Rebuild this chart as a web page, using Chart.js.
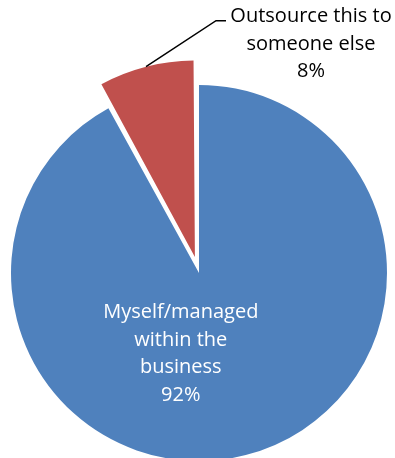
<!DOCTYPE html>
<html lang="en">
<head>
    <meta charset="UTF-8">
    <title>Pie Chart</title>
    <style>
        html, body {
            margin: 0;
            padding: 0;
            background: #fff;
        }
        .chart-container {
            width: 395px;
            height: 458px;
        }
    </style>
    <script src="https://cdn.jsdelivr.net/npm/chart.js"></script>
</head>
<body>
    <div class="chart-container">
        <canvas id="pieChart"></canvas>
    </div>

    <script>
        // Chart data
        const categories = ['Myself/managed within the business', 'Outsource this to someone else'];
        const labelLines = [['Myself/managed', 'within the', 'business'], ['Outsource this to', 'someone else']];
        const percentages = [92, 8];
        const sliceColors = ['#4F81BD', '#C0504D'];
        const explode = [0, 66]; // chart.js arc offset option

        const FONT = '20px "Open Sans", sans-serif';
        const LINE_H = 27.5;

        // how far chart.js really moves an arc for a given offset option
        function arcShift(off, circ) {
            const o = off / 4;
            return o + o * (1 - Math.sin(Math.min(Math.PI, circ)));
        }

        // draws the data labels (inside for the big slice, outside with leader line for the small one)
        const pieLabels = {
            id: 'pieLabels',
            afterDatasetsDraw(chart) {
                const ctx = chart.ctx;
                const arcs = chart.getDatasetMeta(0).data;
                ctx.save();
                ctx.font = FONT;
                ctx.textAlign = 'center';
                ctx.textBaseline = 'middle';

                arcs.forEach((arc, i) => {
                    const { x, y, startAngle, endAngle, outerRadius, circumference } =
                        arc.getProps(['x', 'y', 'startAngle', 'endAngle', 'outerRadius', 'circumference'], true);
                    const mid = (startAngle + endAngle) / 2;
                    const shift = arcShift(explode[i], circumference);
                    const cx = x + Math.cos(mid) * shift;
                    const cy = y + Math.sin(mid) * shift;
                    const lines = labelLines[i].concat([percentages[i] + '%']);

                    if (i === 0) {
                        const lx = cx - outerRadius * 0.097;
                        const ly = cy + outerRadius * 0.43;
                        ctx.fillStyle = '#ffffff';
                        lines.forEach((t, k) => {
                            ctx.fillText(t, lx, ly + (k - (lines.length - 1) / 2) * LINE_H);
                        });
                    } else {
                        // anchor on the outer edge of the slice
                        const ax = cx + Math.cos(mid) * outerRadius;
                        const ay = cy + Math.sin(mid) * outerRadius;
                        const bx = ax + 70;
                        const by = ay - 46;
                        ctx.strokeStyle = '#000000';
                        ctx.lineWidth = 1.5;
                        ctx.beginPath();
                        ctx.moveTo(ax, ay);
                        ctx.lineTo(bx, by);
                        ctx.lineTo(bx + 10, by);
                        ctx.stroke();

                        const tx = bx + 95;
                        const ty = by - 4;
                        ctx.fillStyle = '#000000';
                        lines.forEach((t, k) => {
                            ctx.fillText(t, tx, ty + k * LINE_H);
                        });
                    }
                });
                ctx.restore();
            }
        };

        const ctx = document.getElementById('pieChart').getContext('2d');
        new Chart(ctx, {
            type: 'pie',
            data: {
                labels: categories,
                datasets: [{
                    data: percentages,
                    backgroundColor: sliceColors,
                    borderWidth: 0,
                    offset: explode,
                    clip: false
                }]
            },
            options: {
                responsive: true,
                maintainAspectRatio: false,
                animation: false,
                radius: 188,
                layout: {
                    padding: { top: 88, left: 3, right: 0, bottom: 0 }
                },
                plugins: {
                    legend: { display: false },
                    tooltip: { enabled: false }
                }
            },
            plugins: [pieLabels]
        });
    </script>
</body>
</html>
